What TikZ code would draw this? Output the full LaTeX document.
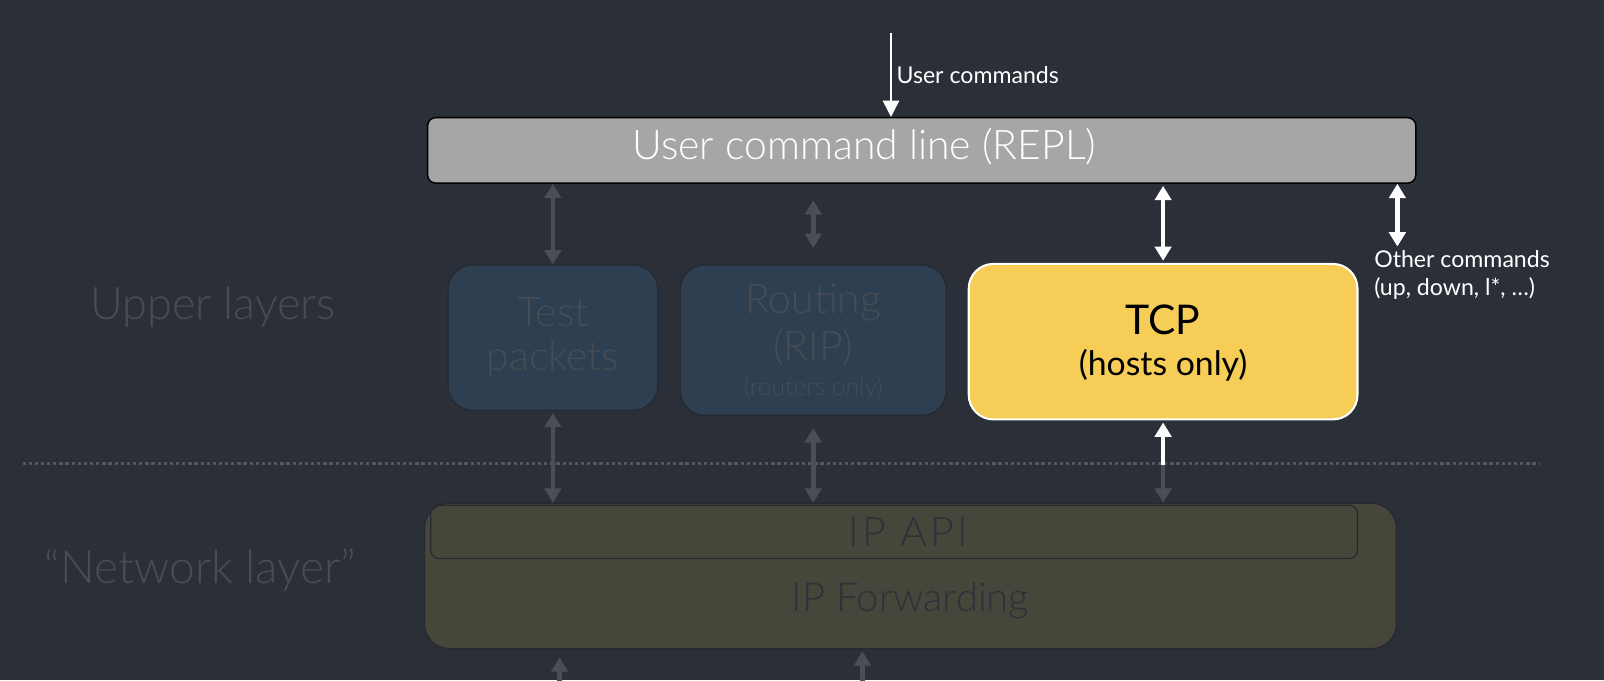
\documentclass[tikz,border=0pt]{standalone}
\usepackage{fontspec}
\setmainfont{Lato Light}
\newfontfamily\regfont{Lato}
\usetikzlibrary{arrows.meta}
\definecolor{bg}{HTML}{2A2F38}
\definecolor{replfill}{HTML}{A6A6A6}
\definecolor{tcpfill}{HTML}{F5CD57}
\definecolor{upfill}{HTML}{2D3F50}
\definecolor{ipfill}{HTML}{47463A}
\definecolor{dimtext}{HTML}{474C55}
\definecolor{darkedge}{HTML}{262A30}
\definecolor{garrowc}{HTML}{4A4E57}
\definecolor{dotc}{HTML}{545861}
\definecolor{iptext}{HTML}{2C313A}
\tikzset{
  gconn/.style={draw=garrowc, line width=2.2pt, {Triangle[length=7pt,width=8pt]}-{Triangle[length=7pt,width=8pt]}},
  wconn/.style={draw=white, line width=2.2pt, {Triangle[length=7pt,width=8pt]}-{Triangle[length=7pt,width=8pt]}},
  thinarrow/.style={draw=white, line width=0.9pt, -{Triangle[length=8pt,width=8pt]}},
  upbox/.style={draw=darkedge, fill=upfill, rounded corners=12pt, line width=0.6pt, inner sep=0pt},
  dimlabel/.style={text=dimtext, inner sep=0pt},
}
\begin{document}
\begin{tikzpicture}[x=0.5pt,y=-0.5pt]
\fill[bg] (0,0) rectangle (1568,665);
\useasboundingbox (0,0) rectangle (1568,665);

% REPL box
\node[draw=black, fill=replfill, rounded corners=4pt, line width=0.7pt,
      minimum width=483pt, minimum height=32pt, inner sep=0pt] (repl) at (901,147) {};
\node[text=white, font=\fontsize{20}{24}\selectfont, inner sep=0pt] (repltext) at (845,143) {User command line (REPL)};

% User commands arrow
\coordinate (ucstart) at (871,32);
\draw[thinarrow] (ucstart) -- (ucstart |- repl.north);
\node[text=white, font=\regfont\fontsize{11.3}{14}\selectfont, anchor=west, inner sep=0pt] (uclabel) at (876,73) {User commands};

% Upper layer boxes
\node[upbox, minimum width=102.5pt, minimum height=71pt] (test) at (540.5,330) {};
\node[dimlabel, font=\fontsize{20}{24}\selectfont] (testa) at (540.5,305) {Test};
\node[dimlabel, font=\fontsize{20}{24}\selectfont] (testb) at (540.5,351) {packets};

\node[upbox, minimum width=130pt, minimum height=73.5pt] (rip) at (795,332.5) {};
\node[dimlabel, font=\fontsize{20}{24}\selectfont] (ripa) at (795,296) {Routing};
\node[dimlabel, font=\fontsize{20}{24}\selectfont] (ripb) at (795,340) {(RIP)};
\node[dimlabel, font=\fontsize{12}{14}\selectfont] (ripc) at (795,380) {(routers only)};

\node[draw=white, fill=tcpfill, rounded corners=12pt, line width=1pt,
      minimum width=190pt, minimum height=76pt, inner sep=0pt] (tcp) at (1137,334) {};
\node[text=black, font=\regfont\fontsize{20}{24}\selectfont, inner sep=0pt] (tcpa) at (1137,313) {TCP};
\node[text=black, font=\regfont\fontsize{16.5}{20}\selectfont, inner sep=0pt] (tcpb) at (1137,357) {(hosts only)};

% Other commands
\coordinate (oc) at (1366,241);
\draw[wconn] (oc) -- (oc |- repl.south);
\node[text=white, font=\regfont\fontsize{11.3}{14}\selectfont, anchor=north west, align=left, inner sep=0pt] (oclabel) at (1343,244) {Other commands\\(up, down, l*, …)};

% Arrows REPL <-> upper layers
\draw[gconn] (test.north) -- (test.north |- repl.south);
\draw[gconn, shorten <=8pt, shorten >=8pt] (rip.north) -- (rip.north |- repl.south);
\draw[wconn, shorten <=1pt, shorten >=1pt] (tcp.north) -- (tcp.north |- repl.south);

% Dotted separator
\coordinate (dl) at (22,453);
\coordinate (dr) at (1505,453);
\draw[draw=dotc, line width=1.6pt, dash pattern=on 1.6pt off 1.4pt] (dl) -- (dr);

% Left labels
\node[dimlabel, font=\fontsize{22}{26}\selectfont] (upper) at (208,300) {Upper layers};
\node[dimlabel, font=\fontsize{22.5}{26}\selectfont] (netl) at (196,557) {“Network layer”};

% IP box
\node[draw=darkedge, fill=ipfill, rounded corners=12pt, line width=0.6pt,
      minimum width=475pt, minimum height=71pt, inner sep=0pt] (ip) at (890,563) {};
\node[draw=darkedge, rounded corners=4pt, line width=0.6pt,
      minimum width=453pt, minimum height=26pt, inner sep=0pt] (ipapi) at (874,520) {};
\node[text=iptext, font=\fontsize{20}{24}\selectfont\addfontfeature{LetterSpace=8}, inner sep=0pt] (ipapitext) at (888,520) {IP API};
\node[text=iptext, font=\fontsize{19.5}{23}\selectfont, inner sep=0pt] (ipfwd) at (890,587) {IP Forwarding};

% Arrows upper layers <-> IP
\draw[gconn, shorten <=1pt] (test.south) -- (test.south |- ip.north);
\draw[gconn, shorten <=6pt] (rip.south) -- (rip.south |- ip.north);
\coordinate (tcpmid) at (1137,455);
\draw[draw=white, line width=2.2pt, -{Triangle[length=7pt,width=8pt]}, shorten >=1pt] (tcpmid) -- (tcp.south);
\draw[draw=garrowc, line width=2.2pt, -{Triangle[length=7pt,width=8pt]}] (tcpmid) -- (tcpmid |- ip.north);

% Bottom arrows
\coordinate (b1) at (547,668);
\coordinate (b2) at (843,668);
\draw[draw=garrowc, line width=2.2pt, -{Triangle[length=7pt,width=8pt]}, shorten >=4pt] (b1) -- (b1 |- ip.south);
\draw[draw=garrowc, line width=2.2pt, -{Triangle[length=7pt,width=8pt]}, shorten >=1pt] (b2) -- (b2 |- ip.south);
\end{tikzpicture}
\end{document}
